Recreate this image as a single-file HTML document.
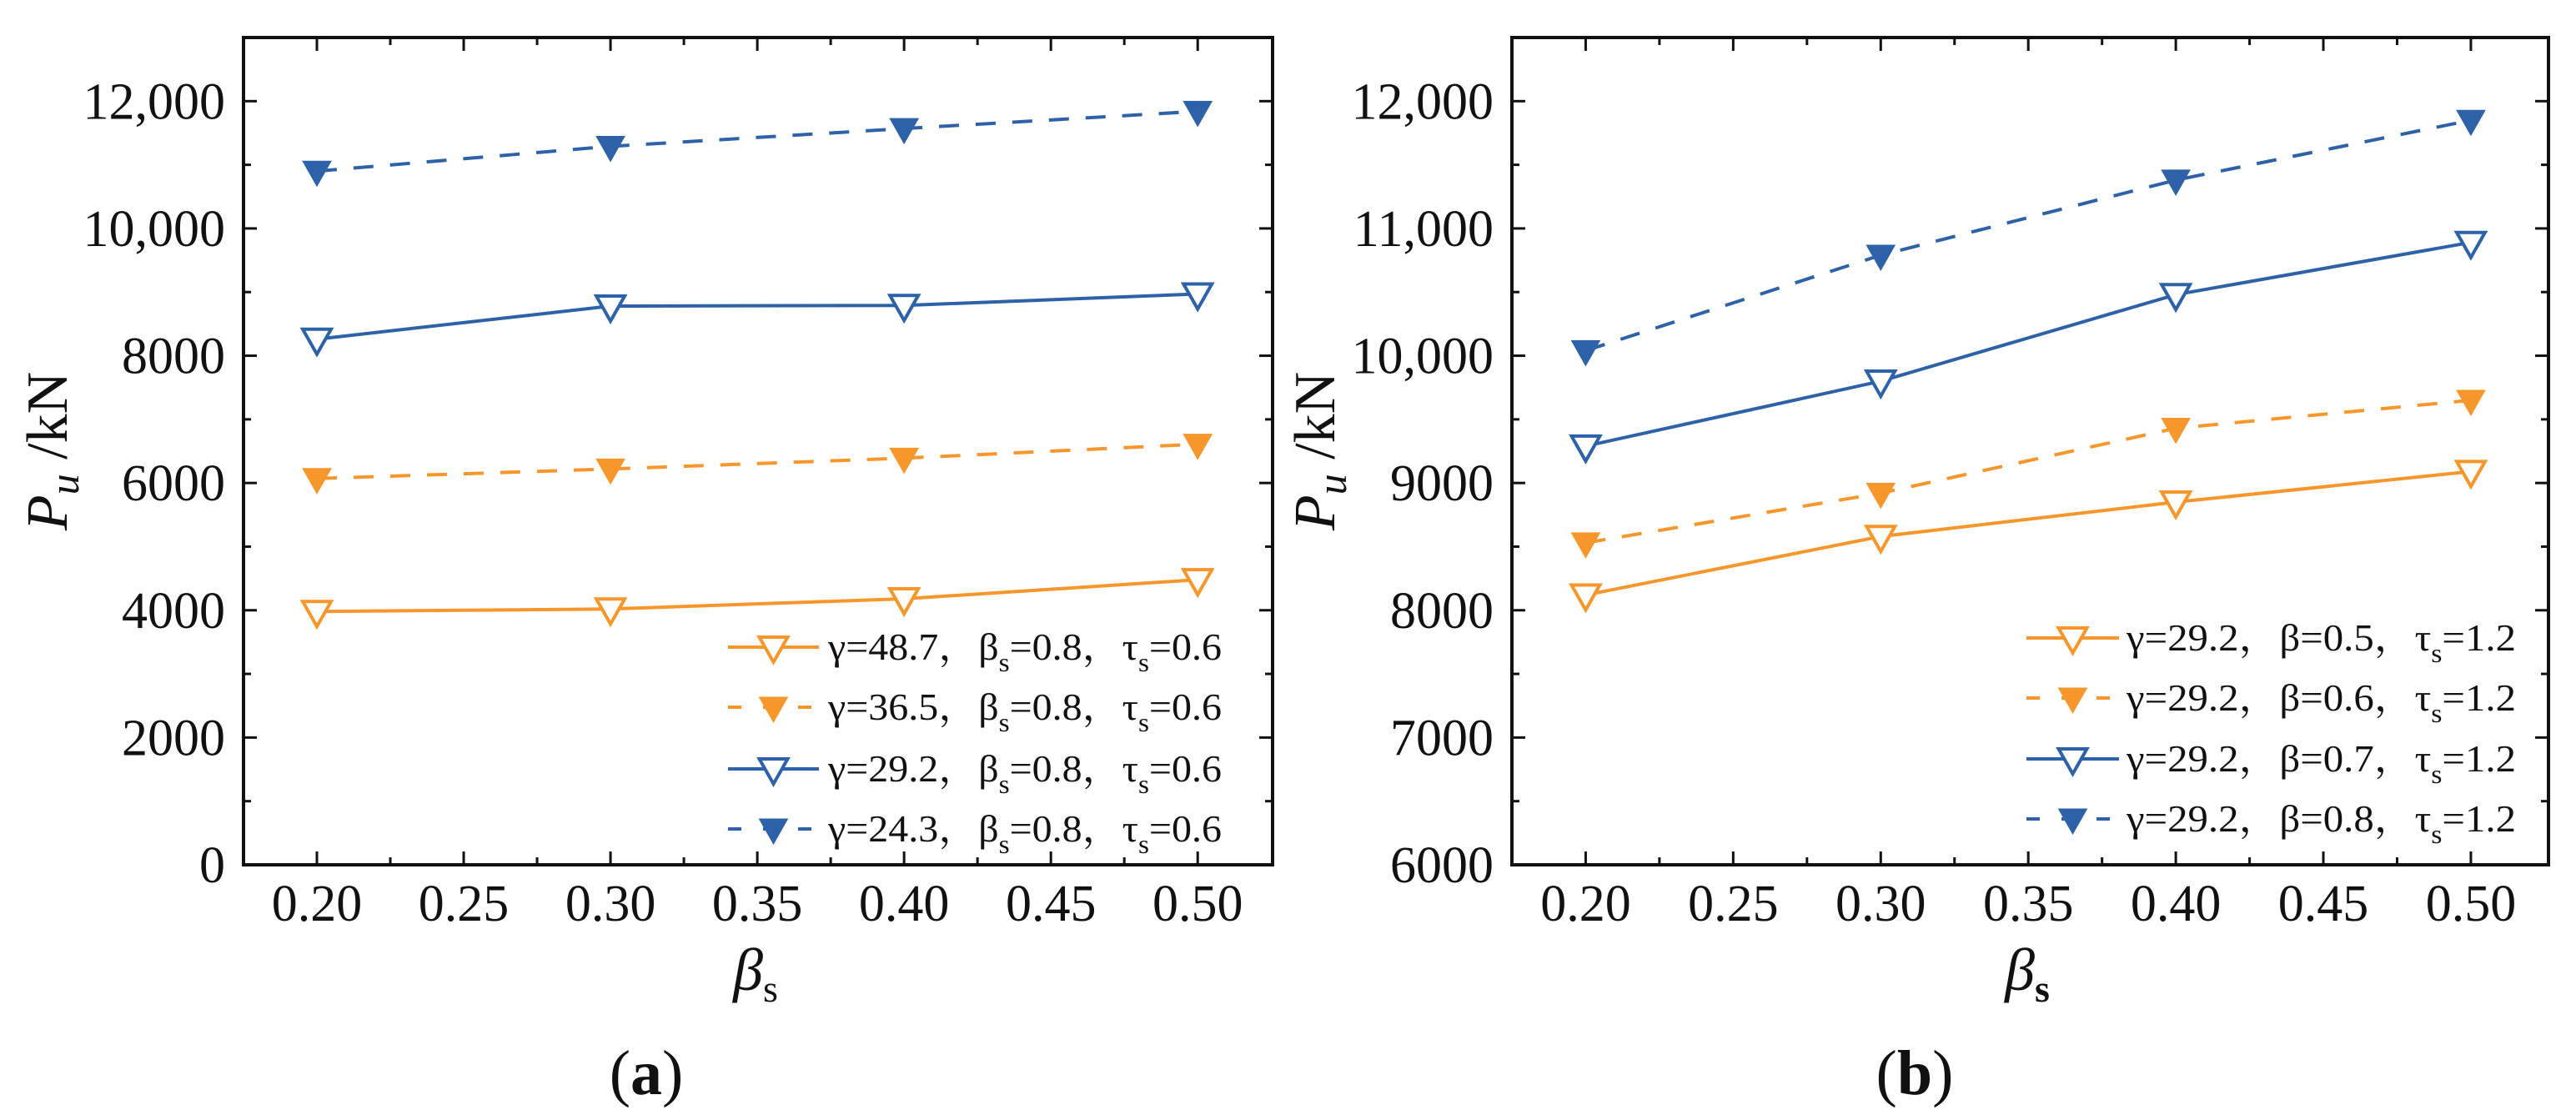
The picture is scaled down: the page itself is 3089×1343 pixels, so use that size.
<!DOCTYPE html>
<html><head><meta charset="utf-8">
<style>
html,body{margin:0;padding:0;background:#fff;}
svg{display:block;font-family:"Liberation Serif","Noto Serif CJK SC",serif;}
</style></head>
<body>
<svg id="fig" width="3089" height="1343" viewBox="0 0 3089 1343" xmlns="http://www.w3.org/2000/svg"></svg>
<script>
// ---- data ----
const xCats = [0.20, 0.30, 0.40, 0.50];
const xTickLabels = ["0.20","0.25","0.30","0.35","0.40","0.45","0.50"];
const yTicksA = [0,2000,4000,6000,8000,10000,12000];
const yTickLabelsA = ["0","2000","4000","6000","8000","10,000","12,000"];
const yTicksB = [6000,7000,8000,9000,10000,11000,12000];
const yTickLabelsB = ["6000","7000","8000","9000","10,000","11,000","12,000"];
const a_g487 = [3980, 4020, 4180, 4480];
const a_g365 = [6070, 6220, 6390, 6610];
const a_g292 = [8260, 8780, 8790, 8970];
const a_g243 = [10900, 11290, 11570, 11840];
const b_b05 = [8120, 8580, 8850, 9090];
const b_b06 = [8530, 8920, 9430, 9650];
const b_b07 = [9290, 9800, 10480, 10890];
const b_b08 = [10040, 10790, 11380, 11850];
const legendA = [["γ=48.7，","β","=0.8，","τ","=0.6"],["γ=36.5，","β","=0.8，","τ","=0.6"],["γ=29.2，","β","=0.8，","τ","=0.6"],["γ=24.3，","β","=0.8，","τ","=0.6"]];
const legendB = [["γ=29.2，","","β=0.5，","τ","=1.2"],["γ=29.2，","","β=0.6，","τ","=1.2"],["γ=29.2，","","β=0.7，","τ","=1.2"],["γ=29.2，","","β=0.8，","τ","=1.2"]];

const NS="http://www.w3.org/2000/svg";
const svg=document.getElementById('fig');
const ORANGE="#F7962B", BLUE="#2D62A8";
function mk(tag,attrs,parent){const e=document.createElementNS(NS,tag);for(const k in attrs)e.setAttribute(k,attrs[k]);(parent||svg).appendChild(e);return e;}

function panel(cfg){
  const g=mk('g',{});
  
  
  const {L,R,T,B,x0,x1,y0,y1}=cfg;
  const sx=v=>L+(v-x0)/(x1-x0)*(R-L);
  const sy=v=>B-(v-y0)/(y1-y0)*(B-T);
  for(let i=0;i<xTickLabels.length;i++){
    const v=0.20+i*0.05, x=sx(v);
    const t1=mk('line',{x1:x,x2:x,y1:B,y2:B-16,stroke:'#111','stroke-width':3},g);
    
    
    mk('line',{x1:x,x2:x,y1:T,y2:T+16,stroke:'#111','stroke-width':3},g);
    const lb=mk('text',{x:x,y:B+67,'font-size':62,'text-anchor':'middle',fill:'#111'},g);
    lb.textContent=xTickLabels[i];
    
    
    if(i<xTickLabels.length-1){const xm=sx(v+0.025);
      mk('line',{x1:xm,x2:xm,y1:B,y2:B-9,stroke:'#111','stroke-width':3},g);
      mk('line',{x1:xm,x2:xm,y1:T,y2:T+9,stroke:'#111','stroke-width':3},g);}
  }
  const yt=cfg.yTicks, yl=cfg.yLabels, half=(yt[1]-yt[0])/2;
  for(let i=0;i<yt.length;i++){
    const y=sy(yt[i]);
    mk('line',{x1:L,x2:L+16,y1:y,y2:y,stroke:'#111','stroke-width':3},g);
    mk('line',{x1:R,x2:R-16,y1:y,y2:y,stroke:'#111','stroke-width':3},g);
    const lb=mk('text',{x:L-22,y:y+21,'font-size':62,'text-anchor':'end',fill:'#111'},g);
    lb.textContent=yl[i];
    
    
    const ym=sy(yt[i]+half);
    if(yt[i]+half<=y1){
      mk('line',{x1:L,x2:L+9,y1:ym,y2:ym,stroke:'#111','stroke-width':3},g);
      mk('line',{x1:R,x2:R-9,y1:ym,y2:ym,stroke:'#111','stroke-width':3},g);}
  }
  const fr=mk('rect',{x:L,y:T,width:R-L,height:B-T,fill:'none',stroke:'#111','stroke-width':4},g);
  
  
  cfg.series.forEach((s,si)=>{
    const pts=xCats.map((c,i)=>sx(c)+','+sy(s.vals[i])).join(' ');
    const pl=mk('polyline',{points:pts,fill:'none',stroke:s.color,'stroke-width':4,'stroke-dasharray':s.dash?'24 20':'none'},g);
    
    
    xCats.forEach((c,i)=>{
      const m=tri(sx(c),sy(s.vals[i]),s,g);
      
      
    });
    const ly=cfg.legY[si];
    const ll=mk('line',{x1:cfg.legX0,x2:cfg.legX1,y1:ly,y2:ly,stroke:s.color,'stroke-width':4,'stroke-dasharray':s.dash?'16 26':'none'},g);
    
    
    tri((cfg.legX0+cfg.legX1)/2,ly,s,g);
    const lt=cfg.legend[si];
    const tx=mk('text',{x:cfg.legTx,y:ly+15,'font-size':46,fill:'#111',textLength:cfg.legTw,lengthAdjust:'spacingAndGlyphs'},g);
    
    
    const p=[[lt[0],0],[lt[1],0],[lt[1]?'s':'',1],[lt[2],0],[lt[3],0],['s',1],[lt[4],0]];
    let shifted=false;
    p.forEach(([str,sub])=>{ if(!str)return;
      const ts=mk('tspan',{},tx);
      if(sub){ts.setAttribute('dy',14);ts.setAttribute('font-size',32);shifted=true;}
      else if(shifted){ts.setAttribute('dy',-14);shifted=false;}
      ts.textContent=str;});
  });
  const yt2=mk('text',{transform:`translate(${cfg.yTitleX},${(T+B)/2}) rotate(-90)`,'font-size':70,'text-anchor':'middle',fill:'#111'},g);
  
  
  const t1=mk('tspan',{'font-style':'italic'},yt2);t1.textContent='P';
  const t2=mk('tspan',{'font-style':'italic',dy:14,'font-size':50},yt2);t2.textContent='u';
  const t3=mk('tspan',{dy:-14},yt2);t3.textContent=' /kN';
  const xt=mk('text',{x:cfg.xTitleX,y:B+150,'font-size':72,'text-anchor':'middle',fill:'#111'},g);
  
  
  const b1=mk('tspan',{'font-style':'italic'},xt);b1.textContent='β';
  const b2=mk('tspan',{dy:14,'font-size':46,'font-weight':cfg.boldS?'bold':'normal'},xt);b2.textContent='s';
  const cap=mk('text',{x:cfg.capX,y:1312,'font-size':76,'text-anchor':'middle',fill:'#111'},g);
  
  
  const c1=mk('tspan',{},cap);c1.textContent='(';
  const c2=mk('tspan',{'font-weight':'bold'},cap);c2.textContent=cfg.cap;
  const c3=mk('tspan',{},cap);c3.textContent=')';
}
function tri(x,y,s,g){
  const w=17;
  return mk('polygon',{points:`${x-w},${y-12} ${x+w},${y-12} ${x},${y+18}`,fill:s.filled?s.color:'#fff',stroke:s.color,'stroke-width':s.filled?1:4},g);
}
panel({name:'panel-a',L:292,R:1526,T:45,B:1037,x0:0.175,x1:0.5255,y0:0,y1:13000,
  yTicks:yTicksA,yLabels:yTickLabelsA,yTitleX:80,xTitleX:906,capX:775,cap:'a',boldS:false,
  legX0:873,legX1:982,legTx:993,legTw:472,legY:[776,848,922,994],legend:legendA,
  series:[{id:'gamma-48-7',vals:a_g487,color:ORANGE,dash:false,filled:false},
          {id:'gamma-36-5',vals:a_g365,color:ORANGE,dash:true,filled:true},
          {id:'gamma-29-2',vals:a_g292,color:BLUE,dash:false,filled:false},
          {id:'gamma-24-3',vals:a_g243,color:BLUE,dash:true,filled:true}]});
panel({name:'panel-b',L:1813,R:3056,T:45,B:1037,x0:0.175,x1:0.5263,y0:6000,y1:12500,
  yTicks:yTicksB,yLabels:yTickLabelsB,yTitleX:1600,xTitleX:2431,capX:2296,cap:'b',boldS:true,
  legX0:2430,legX1:2541,legTx:2550,legTw:467,legY:[765,837,910,982],legend:legendB,
  series:[{id:'beta-0-5',vals:b_b05,color:ORANGE,dash:false,filled:false},
          {id:'beta-0-6',vals:b_b06,color:ORANGE,dash:true,filled:true},
          {id:'beta-0-7',vals:b_b07,color:BLUE,dash:false,filled:false},
          {id:'beta-0-8',vals:b_b08,color:BLUE,dash:true,filled:true}]});
</script>
</body></html>
